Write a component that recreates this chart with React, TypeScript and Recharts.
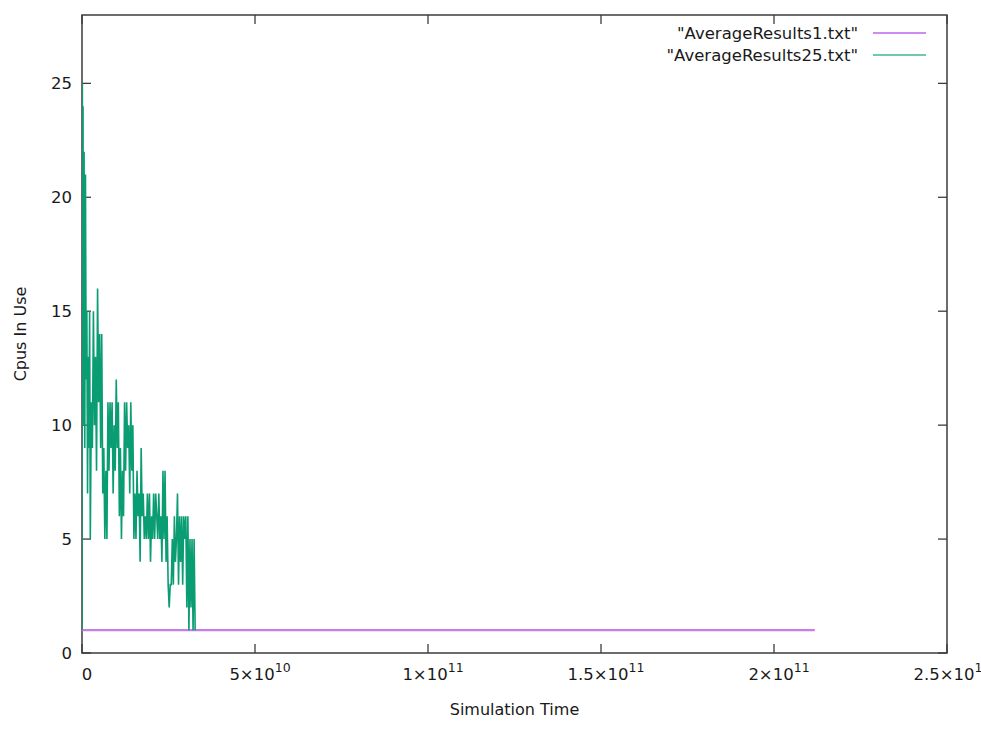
import { LineChart, Line, XAxis, YAxis, Legend, ReferenceArea, ReferenceLine } from "recharts";

// simulation time is in units of 1e9, cpus in use
const cpus25: [number, number][] = [
  [0, 1], [0.1, 25], [0.2, 13], [0.3, 24], [0.4, 10], [0.5, 20], [0.6, 22],
  [0.8, 9], [1.0, 21], [1.2, 12], [1.4, 15], [1.6, 7], [1.8, 13], [2.0, 9],
  [2.2, 15], [2.4, 5], [2.7, 11], [3.0, 9], [3.3, 15], [3.6, 10], [3.9, 13],
  [4.2, 8], [4.5, 16], [4.8, 11], [5.1, 14], [5.4, 9], [5.7, 14], [6.0, 7],
  [6.3, 9], [6.6, 5], [6.9, 8], [7.2, 5], [7.5, 11], [7.8, 8], [8.1, 11],
  [8.4, 9], [8.7, 11], [9.0, 7], [9.3, 10], [9.6, 8], [9.9, 12], [10.2, 9],
  [10.5, 11], [10.8, 6], [11.1, 9], [11.4, 5], [11.7, 8], [12.0, 6], [12.3, 11],
  [12.6, 8], [12.9, 11], [13.2, 9], [13.5, 10], [13.8, 7], [14.1, 11], [14.4, 8],
  [14.7, 10], [15.0, 5], [15.3, 7], [15.6, 5], [15.9, 8], [16.2, 6], [16.5, 7],
  [16.8, 4], [17.1, 9], [17.4, 6], [17.7, 7], [18.0, 5], [18.3, 6], [18.6, 5],
  [18.9, 7], [19.2, 5], [19.5, 7], [19.8, 4], [20.1, 6], [20.4, 5], [20.7, 7],
  [21.0, 5], [21.3, 7], [21.6, 6], [21.9, 5], [22.2, 7], [22.5, 5], [22.8, 6],
  [23.1, 4], [23.4, 8], [23.7, 5], [24.0, 8], [24.3, 4], [24.6, 6], [24.9, 3],
  [25.2, 2], [25.5, 3], [25.8, 3], [26.1, 5], [26.4, 3], [26.7, 6], [27.0, 4],
  [27.3, 5], [27.6, 7], [27.9, 3], [28.2, 6], [28.5, 4], [28.8, 6], [29.1, 3],
  [29.4, 6], [29.7, 5], [30.0, 6], [30.3, 2], [30.6, 6], [30.9, 1], [31.2, 5],
  [31.5, 2], [31.8, 5], [32.1, 1], [32.4, 5], [32.7, 1],
];

const cpus1: [number, number][] = [
  [0, 1],
  [211.8, 1],
];

const xTicks = [0, 50, 100, 150, 200, 250];
const xTickLabels = [
  { base: "0", exp: "" },
  { base: "5×10", exp: "10" },
  { base: "1×10", exp: "11" },
  { base: "1.5×10", exp: "11" },
  { base: "2×10", exp: "11" },
  { base: "2.5×10", exp: "11" },
];
const yTicks = [0, 5, 10, 15, 20, 25];

const series = [
  { name: '"AverageResults1.txt"', color: "#c47eeb", legendColor: "#cc8cf0", points: cpus1, width: 2.2 },
  { name: '"AverageResults25.txt"', color: "#0a9c72", legendColor: "#6fcaa9", points: cpus25, width: 1.6 },
];

const FONT = "DejaVu Sans";
const INK = "#1a1a1a";
const AXIS = "#3c3c3c";
const TICK = 9;

const rows = (pts: [number, number][]) => pts.map(([t, v]) => ({ t, v }));

function BottomTick({ x, y, payload }: any) {
  const lab = xTickLabels[xTicks.indexOf(payload.value)];
  return (
    <text x={x + 5} y={y + 27} textAnchor="middle" fontFamily={FONT} fontSize={16.5} fill={INK}>
      {lab.base}
      {lab.exp && (
        <tspan dy={-8} fontSize={12.5}>
          {lab.exp}
        </tspan>
      )}
    </text>
  );
}

function LeftTick({ x, y, payload }: any) {
  return (
    <text x={x - 10} y={y} dy="0.36em" textAnchor="end" fontFamily={FONT} fontSize={16.5} fill={INK}>
      {payload.value}
    </text>
  );
}

// inward tick marks at both ends of a vertical reference line
function XTickMarks({ x1, y1, x2, y2 }: any) {
  const top = Math.min(y1, y2);
  const bottom = Math.max(y1, y2);
  return (
    <g>
      <line x1={x1} y1={top} x2={x1} y2={top + TICK} stroke={AXIS} strokeWidth={1.3} />
      <line x1={x2} y1={bottom} x2={x2} y2={bottom - TICK} stroke={AXIS} strokeWidth={1.3} />
    </g>
  );
}

// inward tick marks at both ends of a horizontal reference line
function YTickMarks({ x1, y1, x2, y2 }: any) {
  const left = Math.min(x1, x2);
  const right = Math.max(x1, x2);
  return (
    <g>
      <line x1={left} y1={y1} x2={left + TICK} y2={y1} stroke={AXIS} strokeWidth={1.3} />
      <line x1={right} y1={y2} x2={right - TICK} y2={y2} stroke={AXIS} strokeWidth={1.3} />
    </g>
  );
}

function XTitle({ viewBox }: any) {
  return (
    <text
      x={viewBox.x + viewBox.width / 2}
      y={viewBox.y + 62}
      textAnchor="middle"
      fontFamily={FONT}
      fontSize={16}
      fill={INK}
    >
      Simulation Time
    </text>
  );
}

function YTitle({ viewBox }: any) {
  const x = viewBox.x + 26;
  const y = viewBox.y + viewBox.height / 2;
  return (
    <text
      x={x}
      y={y}
      transform={`rotate(-90, ${x}, ${y})`}
      textAnchor="middle"
      fontFamily={FONT}
      fontSize={16}
      fill={INK}
    >
      Cpus In Use
    </text>
  );
}

function LegendBox() {
  return (
    <div style={{ fontFamily: FONT, fontSize: 16.5, color: INK }}>
      {series.map((s) => (
        <div
          key={s.name}
          style={{ display: "flex", justifyContent: "flex-end", alignItems: "center", height: 22 }}
        >
          <span style={{ whiteSpace: "nowrap" }}>{s.name}</span>
          <span
            style={{ display: "inline-block", width: 53, height: 2, marginLeft: 15, background: s.legendColor }}
          />
        </div>
      ))}
    </div>
  );
}

export default function App() {
  return (
    <div style={{ position: "absolute", top: 0, left: 0, background: "#fff" }}>
      <LineChart width={981} height={730} margin={{ top: 15, right: 34, bottom: 0, left: 0 }}>
        <XAxis
          dataKey="t"
          type="number"
          domain={[0, 250]}
          ticks={xTicks}
          interval={0}
          allowDataOverflow
          height={77}
          tickSize={0}
          tickMargin={0}
          tick={<BottomTick />}
          axisLine={false}
          label={{ content: <XTitle /> }}
        />
        <YAxis
          dataKey="v"
          type="number"
          domain={[0, 28]}
          ticks={yTicks}
          interval={0}
          allowDataOverflow
          width={82}
          tickSize={0}
          tickMargin={0}
          tick={<LeftTick />}
          axisLine={false}
          label={{ content: <YTitle /> }}
        />
        <Legend
          layout="vertical"
          align="center"
          verticalAlign="middle"
          wrapperStyle={{ top: 22, left: 500, width: 426, height: 50 }}
          content={() => <LegendBox />}
        />
        {xTicks.map((t) => (
          <ReferenceLine key={`xt${t}`} x={t} shape={<XTickMarks />} />
        ))}
        {yTicks.map((v) => (
          <ReferenceLine key={`yt${v}`} y={v} shape={<YTickMarks />} />
        ))}
        {series.map((s) => (
          <Line
            key={s.name}
            data={rows(s.points)}
            dataKey="v"
            name={s.name}
            type="linear"
            stroke={s.color}
            strokeWidth={s.width}
            dot={false}
            activeDot={false}
            isAnimationActive={false}
          />
        ))}
        <ReferenceArea
          x1={0}
          x2={250}
          y1={0}
          y2={28}
          fill="none"
          fillOpacity={0}
          stroke={AXIS}
          strokeWidth={1.5}
          strokeOpacity={1}
          ifOverflow="visible"
        />
      </LineChart>
    </div>
  );
}
